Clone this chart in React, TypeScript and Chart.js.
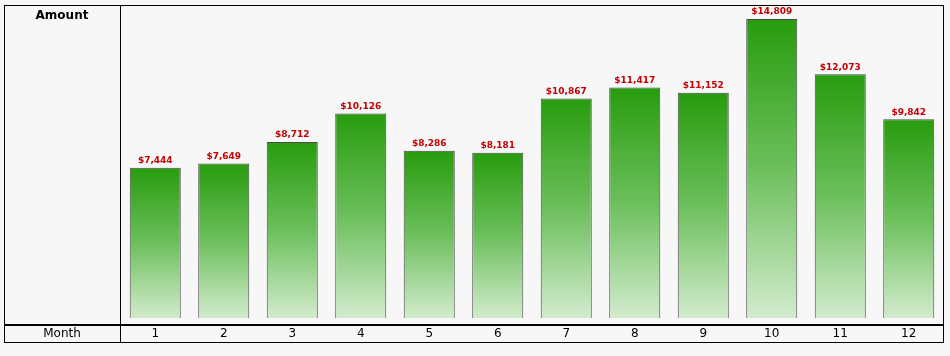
import React, { useEffect, useRef } from "react";
import { Chart, registerables } from "chart.js";

Chart.register(...registerables);

const months = ["1", "2", "3", "4", "5", "6", "7", "8", "9", "10", "11", "12"];
const amounts = [7444, 7649, 8712, 10126, 8286, 8181, 10867, 11417, 11152, 14809, 12073, 9842];
const yAxisTitle = "Amount";
const xAxisTitle = "Month";

const FONT = "'DejaVu Sans', Verdana, sans-serif";
const BG = "#f7f7f7";

const fmt = (v: number) => "$" + v.toLocaleString("en-US");

const framePlugin = {
  id: "frame",
  beforeDraw(chart: any) {
    const { ctx, width, height } = chart;
    ctx.save();
    ctx.fillStyle = BG;
    ctx.fillRect(0, 0, width, height);
    ctx.restore();
  },
  afterDraw(chart: any) {
    const { ctx } = chart;
    ctx.save();
    // data labels
    const meta = chart.getDatasetMeta(0);
    ctx.font = `bold 9px ${FONT}`;
    ctx.fillStyle = "#c40000";
    ctx.textAlign = "center";
    ctx.textBaseline = "middle";
    meta.data.forEach((bar: any, i: number) => {
      ctx.fillText(fmt(amounts[i]), bar.x, bar.y - 7);
    });
    // frame
    ctx.strokeStyle = "#000";
    ctx.lineWidth = 1;
    ctx.strokeRect(4.5, 5.5, 939, 337);
    ctx.beginPath();
    ctx.moveTo(120.5, 5.5);
    ctx.lineTo(120.5, 342.5);
    ctx.stroke();
    ctx.lineWidth = 2;
    ctx.beginPath();
    ctx.moveTo(4.5, 325);
    ctx.lineTo(943.5, 325);
    ctx.stroke();
    // titles
    ctx.fillStyle = "#000";
    ctx.textAlign = "center";
    ctx.textBaseline = "middle";
    ctx.font = `bold 12px ${FONT}`;
    ctx.fillText(yAxisTitle, 62, 16);
    ctx.font = `12px ${FONT}`;
    ctx.fillText(xAxisTitle, 62, 334);
    ctx.restore();
  },
};

export default function App() {
  const ref = useRef<HTMLCanvasElement>(null);
  useEffect(() => {
    document.body.style.margin = "0";
    document.body.style.background = BG;
    const canvas = ref.current!;
    const chart = new Chart(canvas, {
      type: "bar",
      data: {
        labels: months,
        datasets: [
          {
            data: amounts,
            backgroundColor: (c: any) => {
              const ch = c.chart;
              const { chartArea, scales } = ch;
              if (!chartArea || c.type !== "data") return "#2a9d10";
              const v = c.raw as number;
              const yTop = scales.y.getPixelForValue(v);
              const yBot = scales.y.getPixelForValue(0);
              const g = ch.ctx.createLinearGradient(0, yTop, 0, yBot);
              g.addColorStop(0, "#289c0e");
              g.addColorStop(0.5, "#6cbf5c");
              g.addColorStop(1, "#d2ebcd");
              return g;
            },
            borderColor: "#4a4a4a",
            borderWidth: { top: 1, left: 1, right: 1, bottom: 0 },
            borderSkipped: "start",
            categoryPercentage: 1,
            barPercentage: 0.745,
          },
        ],
      },
      options: {
        responsive: false,
        animation: false,
        layout: { padding: { left: 121, right: 7, top: 6, bottom: 5.6 } },
        plugins: { legend: { display: false }, tooltip: { enabled: false } },
        scales: {
          x: {
            grid: { display: false, drawTicks: false },
            border: { display: false },
            ticks: { color: "#000", font: { family: FONT, size: 12 }, padding: 9, maxRotation: 0 },
          },
          y: {
            display: false,
            min: 0,
            max: 15450,
          },
        },
      },
      plugins: [framePlugin],
    });
    return () => chart.destroy();
  }, []);
  return <canvas ref={ref} width={950} height={356} style={{ display: "block" }} />;
}
